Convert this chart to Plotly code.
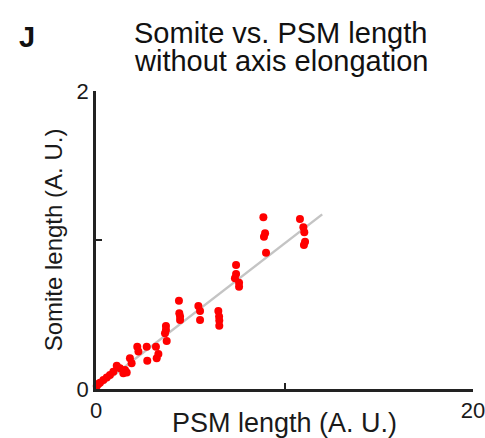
import plotly.graph_objects as go

# PSM length (A. U.) and Somite length (A. U.)
psm_length = [8.88, 8.97, 8.91, 9.02, 10.82, 11.0, 11.05, 11.09, 11.03,
              7.43, 7.43, 7.37, 7.59, 7.59,
              4.40, 4.42, 4.46, 4.46, 5.43, 5.52, 5.52,
              6.49, 6.53, 6.54, 6.54,
              3.71, 3.71, 3.66, 3.75,
              2.19, 2.25, 2.69, 2.72, 3.18, 3.31, 3.22,
              1.80, 1.89, 1.10, 1.27, 1.54, 1.63, 1.45,
              0.92, 0.74, 0.57, 0.39, 0.21, 0.04, 0.12, -0.05]
somite_length = [1.152, 1.045, 1.022, 0.915, 1.141, 1.085, 1.052, 0.989, 0.966,
                 0.832, 0.772, 0.743, 0.713, 0.687,
                 0.593, 0.508, 0.486, 0.463, 0.557, 0.523, 0.463,
                 0.523, 0.486, 0.459, 0.425,
                 0.423, 0.396, 0.374, 0.322,
                 0.284, 0.251, 0.284, 0.190, 0.284, 0.235, 0.206,
                 0.206, 0.172, 0.156, 0.139, 0.128, 0.110, 0.105,
                 0.116, 0.094, 0.078, 0.060, 0.042, 0.020, 0.034, 0.005]

# linear fit line
fit_x = [0, 12]
fit_y = [0, 1.172]

x_ticks = [0, 10, 20]
x_ticktext = ["0", "", "20"]
y_ticks = [0, 1, 2]
y_ticktext = ["0", "", "2"]

FONT = "Liberation Sans, Arial, sans-serif"

W, H = 485, 438
L, R, T, B = 96, 12, 91, 49
PW, PH = W - L - R, H - T - B


def px2paper(px, py):
    return (px - L) / PW, (H - B - py) / PH


fig = go.Figure()
fig.add_trace(go.Scatter(x=fit_x, y=fit_y, mode="lines",
                         line=dict(color="#c4c4c4", width=2.5),
                         hoverinfo="skip", showlegend=False))
fig.add_trace(go.Scatter(x=psm_length, y=somite_length, mode="markers",
                         marker=dict(color="#ff0000", size=8, line=dict(width=0)),
                         cliponaxis=False, showlegend=False))

anns = []
for text, (px, py), size in [("<b>J</b>", (27, 37), 29),
                             ("Somite vs. PSM length", (280, 33), 29),
                             ("without axis elongation", (281, 61), 29)]:
    ax, ay = px2paper(px, py)
    anns.append(dict(text=text, x=ax, y=ay, xref="paper", yref="paper",
                     xanchor="center", yanchor="middle", showarrow=False,
                     font=dict(size=size, color="#111", family=FONT)))

fig.update_layout(
    width=W, height=H,
    margin=dict(l=L, r=R, t=T, b=B, autoexpand=False),
    paper_bgcolor="white", plot_bgcolor="white",
    font=dict(family=FONT, color="#1a1a1a"),
    annotations=anns,
    xaxis=dict(range=[0, 20], tickvals=x_ticks, ticktext=x_ticktext,
               automargin=False, ticklabeloverflow="allow",
               showgrid=False, zeroline=False, showline=True,
               linecolor="#222", linewidth=2.5, ticks="inside", ticklen=6,
               tickwidth=2, tickcolor="#222", tickfont=dict(size=22),
               title=dict(text="PSM length (A. U.)", font=dict(size=27), standoff=2)),
    yaxis=dict(range=[0, 2], tickvals=y_ticks, ticktext=y_ticktext,
               automargin=False, ticklabeloverflow="allow",
               showgrid=False, zeroline=False, showline=True,
               linecolor="#222", linewidth=2.5, ticks="inside", ticklen=6,
               tickwidth=2, tickcolor="#222", tickfont=dict(size=22),
               title=dict(text="Somite length (A. U.)", font=dict(size=24), standoff=8)),
)

fig.write_html("out.html")
